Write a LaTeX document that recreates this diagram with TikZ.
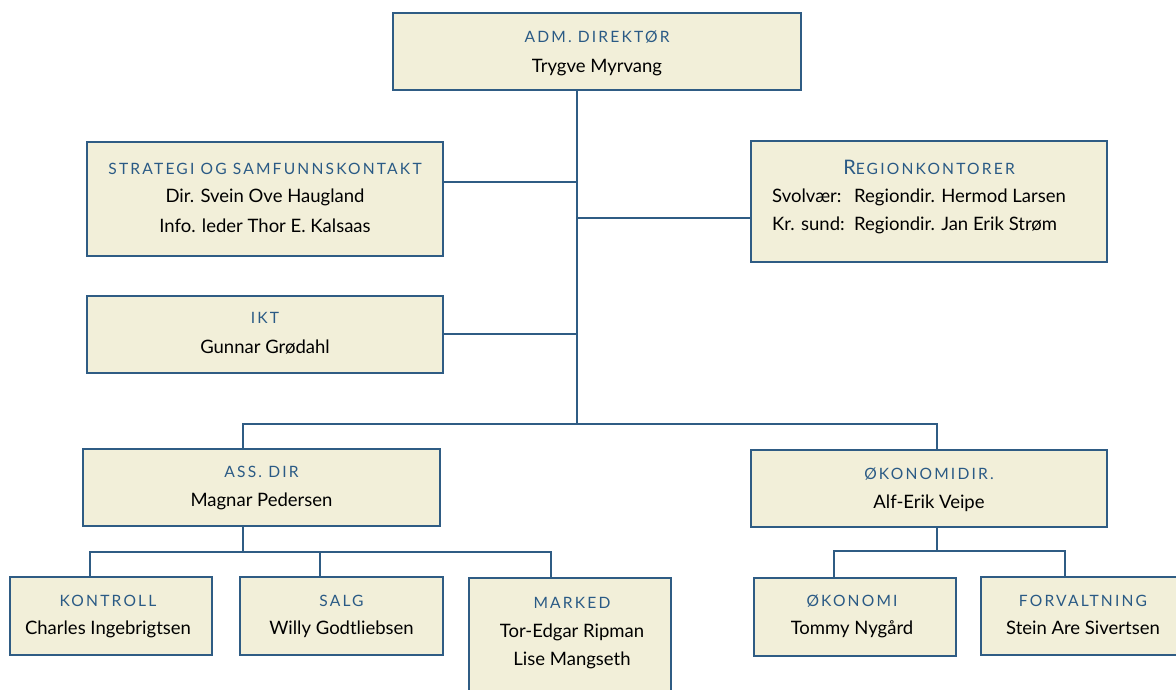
\documentclass[tikz,border=0pt]{standalone}
\usepackage{fontspec}
\setmainfont{Lato}
\newfontfamily\titlefont[LetterSpace=14]{Lato}
\definecolor{boxfill}{HTML}{F2EFD9}
\definecolor{boxline}{HTML}{2F5C84}
\definecolor{titlecol}{HTML}{2A5A85}
\tikzset{
  orgbox/.style={draw=boxline, fill=boxfill, line width=1.6pt, inner sep=0pt},
  conn/.style={draw=boxline, line width=1.6pt},
  ttl/.style={anchor=base, inner sep=0pt, text=titlecol, font=\titlefont\fontsize{15.6}{18}\selectfont},
  nm/.style={anchor=base, inner sep=0pt, text=black, font=\fontsize{18.5}{22}\selectfont},
  nml/.style={anchor=base west, inner sep=0pt, text=black, font=\fontsize{18.5}{22}\selectfont},
}
\begin{document}
\begin{tikzpicture}[x=1pt,y=-1pt]
\clip (0,0) rectangle (1176,690);
\useasboundingbox (0,0) rectangle (1176,690);
% boxes
\node[orgbox, minimum width=408pt, minimum height=77pt] (top) at (597,51.5) {};
\node[orgbox, minimum width=356pt, minimum height=114pt] (strat) at (265,199) {};
\node[orgbox, minimum width=356pt, minimum height=121pt] (region) at (929,201.5) {};
\node[orgbox, minimum width=356pt, minimum height=77pt] (ikt) at (265,334.5) {};
\node[orgbox, minimum width=357pt, minimum height=77pt] (ass) at (261.5,487.5) {};
\node[orgbox, minimum width=356pt, minimum height=77pt] (okdir) at (929,488.5) {};
\node[orgbox, minimum width=202pt, minimum height=78pt] (kontroll) at (111,616) {};
\node[orgbox, minimum width=203pt, minimum height=78pt] (salg) at (341.5,616) {};
\node[orgbox, minimum width=202pt, minimum height=122pt] (marked) at (570,639) {};
\node[orgbox, minimum width=202pt, minimum height=78pt] (okonomi) at (855,617) {};
\node[orgbox, minimum width=209pt, minimum height=78pt] (forv) at (1085.5,616) {};
% junctions
\coordinate (trunk) at (577,424);
\coordinate (assj) at (243,552);
\coordinate (okj) at (937,551);
\coordinate (kx) at (90,552);
\coordinate (sx) at (320,552);
\coordinate (mx) at (551,552);
\coordinate (ox) at (834,551);
\coordinate (fx) at (1065,551);
% connectors
\draw[conn] (top.south -| trunk) -- (trunk);
\draw[conn] (strat.east |- 0,182) -- (trunk |- 0,182);
\draw[conn] (region.west |- 0,218) -- (trunk |- 0,218);
\draw[conn] (ikt.east |- 0,334) -- (trunk |- 0,334);
\draw[conn] (ass.north -| assj) -- (assj |- trunk) -- (okj |- trunk) -- (okdir.north -| okj);
\draw[conn] (ass.south -| assj) -- (assj);
\draw[conn] (kontroll.north -| kx) -- (kx) -- (mx) -- (marked.north -| mx);
\draw[conn] (salg.north -| sx) -- (sx);
\draw[conn] (okdir.south -| okj) -- (okj);
\draw[conn] (okonomi.north -| ox) -- (ox) -- (fx) -- (forv.north -| fx);
% texts
\node[ttl] (t-top) at (597,43) {ADM. DIREKTØR};
\node[nm] (n-top) at (597,73) {Trygve Myrvang};
\node[ttl] (t-strat) at (265,175) {STRATEGI OG SAMFUNNSKONTAKT};
\node[nm] (n-strat1) at (265,203) {Dir. Svein Ove Haugland};
\node[nm] (n-strat2) at (265,232) {Info. leder Thor E. Kalsaas};
\node[ttl] (t-region) at (929,175) {{\fontsize{20}{22}\selectfont R}EGIONKONTORER};
\node[nml] (n-reg1a) at (772,203) {Svolvær:};
\node[nml] (n-reg1b) at (854,203) {Regiondir. Hermod Larsen};
\node[nml] (n-reg2a) at (772,230) {Kr. sund:};
\node[nml] (n-reg2b) at (854,230) {Regiondir. Jan Erik Strøm};
\node[ttl] (t-ikt) at (265,323) {IKT};
\node[nm] (n-ikt) at (265,353) {Gunnar Grødahl};
\node[ttl] (t-ass) at (261.5,477) {ASS. DIR};
\node[nm] (n-ass) at (261.5,506) {Magnar Pedersen};
\node[ttl] (t-okdir) at (929,479) {ØKONOMIDIR.};
\node[nm] (n-okdir) at (929,508) {Alf-Erik Veipe};
\node[ttl] (t-kontroll) at (108,606) {KONTROLL};
\node[nm] (n-kontroll) at (108,634) {Charles Ingebrigtsen};
\node[ttl] (t-salg) at (341.5,606) {SALG};
\node[nm] (n-salg) at (341.5,634) {Willy Godtliebsen};
\node[ttl] (t-marked) at (572,608) {MARKED};
\node[nm] (n-marked1) at (572,637) {Tor-Edgar Ripman};
\node[nm] (n-marked2) at (572,665) {Lise Mangseth};
\node[ttl] (t-okonomi) at (852,606) {ØKONOMI};
\node[nm] (n-okonomi) at (852,634) {Tommy Nygård};
\node[ttl] (t-forv) at (1083,606) {FORVALTNING};
\node[nm] (n-forv) at (1083,634) {Stein Are Sivertsen};
\end{tikzpicture}
\end{document}
